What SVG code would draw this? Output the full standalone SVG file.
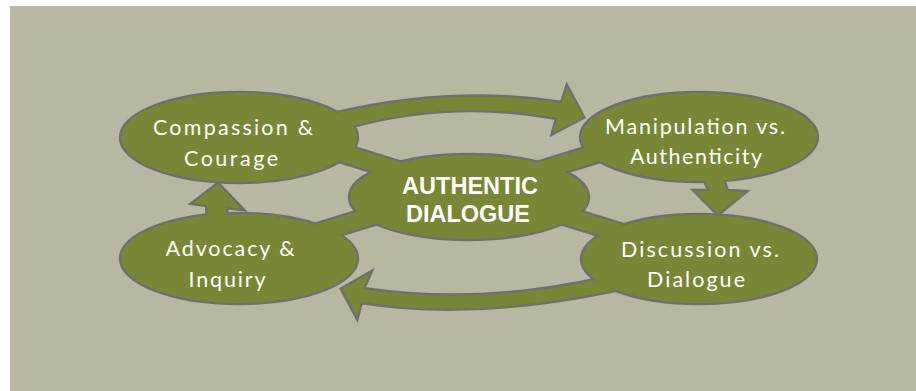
<svg xmlns="http://www.w3.org/2000/svg" xmlns:xlink="http://www.w3.org/1999/xlink" width="916" height="391" viewBox="0 0 916 391">
<style>
.bg{fill:#b7b7a2}
.outline{fill:#788636;stroke:#6f6f6f;stroke-width:4.4;stroke-linejoin:miter;stroke-miterlimit:10}
.fill{fill:#788636;stroke:none}
.lbl{font-family:Lato,"Open Sans","Liberation Sans",sans-serif;font-size:21.5px;fill:#ffffff;text-anchor:middle}
.ctr{font-family:"Liberation Sans",Arial,sans-serif;font-weight:bold;font-size:23.5px;fill:#ffffff;text-anchor:middle}
</style>
<rect class="bg" x="10" y="6" width="906" height="385"/>
<g id="outlines" class="outline">
<use xlink:href="#band-compassion"/>
<use xlink:href="#band-manipulation"/>
<use xlink:href="#band-advocacy"/>
<use xlink:href="#band-discussion"/>
<use xlink:href="#arrow-top"/>
<use xlink:href="#arrow-right"/>
<use xlink:href="#arrow-bottom"/>
<use xlink:href="#arrow-left"/>
<use xlink:href="#shape-compassion"/>
<use xlink:href="#shape-manipulation"/>
<use xlink:href="#shape-advocacy"/>
<use xlink:href="#shape-discussion"/>
<use xlink:href="#shape-center"/>
</g>
<g id="connectors" class="fill">
<polygon id="band-compassion" points="287.5,145.1 466.5,200.6 471.5,184.4 292.5,128.9"/>
<polygon id="band-manipulation" points="471.5,200.9 652.5,144.8 647.5,128.6 466.5,184.7"/>
<polygon id="band-advocacy" points="292.5,249.5 471.5,194 466.5,177.8 287.5,233.3"/>
<polygon id="band-discussion" points="466.5,194.1 647.5,250.1 652.5,233.9 471.5,177.9"/>
<path id="arrow-top" d="M318 128 L337 113 Q454 86 562 103 L567 87 L583 117 L553 133 L557 118 Q453 99 352 126 L330 138 Z"/>
<path id="arrow-right" d="M699 170 L710 191 L695 191 L718 214 L745 192 L727 191 L720 170 Z"/>
<path id="arrow-bottom" d="M370 273 L363 289 Q478 306 600 279 L625 272 L632 286 L615 290 Q472 320 361 302 L357 317 L342 289 Z"/>
<path id="arrow-left" d="M208 225 L207 205 L193 203 L218 184 L242 209 L226 207 L227 225 Z"/>
</g>
<g id="node-compassion" class="fill">
<ellipse id="shape-compassion" cx="239" cy="137.5" rx="118" ry="44.5"/>
<text class="lbl" x="233" y="135" textLength="160">Compassion &amp;</text>
<text class="lbl" x="231" y="166" textLength="94">Courage</text>
</g>
<g id="node-manipulation" class="fill">
<ellipse id="shape-manipulation" cx="699" cy="137" rx="118" ry="44"/>
<text class="lbl" x="695" y="134" textLength="180">Manipulation vs.</text>
<text class="lbl" x="696" y="164" textLength="132">Authenticity</text>
</g>
<g id="node-advocacy" class="fill">
<ellipse id="shape-advocacy" cx="239" cy="258.5" rx="118" ry="44.5"/>
<text class="lbl" x="230" y="256" textLength="129">Advocacy &amp;</text>
<text class="lbl" x="227" y="287" textLength="77">Inquiry</text>
</g>
<g id="node-discussion" class="fill">
<ellipse id="shape-discussion" cx="699" cy="259" rx="117" ry="44"/>
<text class="lbl" x="700" y="257" textLength="158">Discussion vs.</text>
<text class="lbl" x="696" y="287" textLength="98">Dialogue</text>
</g>
<g id="node-center" class="fill">
<ellipse id="shape-center" cx="469" cy="197" rx="119" ry="42"/>
<text class="ctr" x="470" y="194">AUTHENTIC</text>
<text class="ctr" x="468" y="222">DIALOGUE</text>
</g>
</svg>
